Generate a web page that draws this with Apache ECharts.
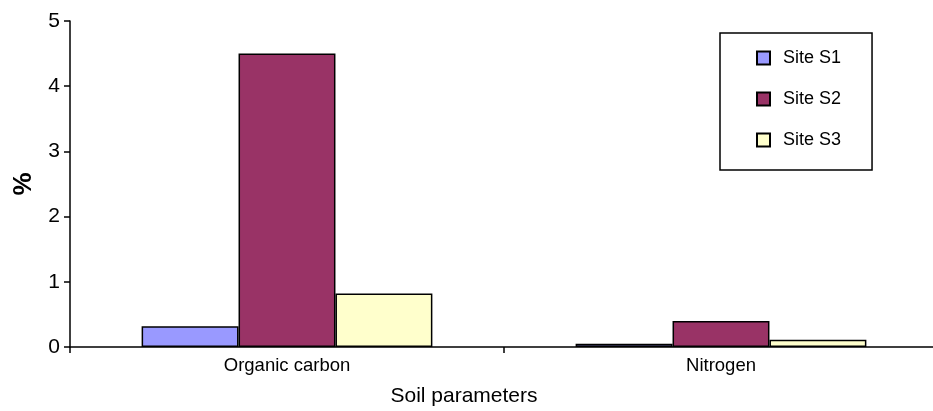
<!DOCTYPE html>
<html>
<head>
<meta charset="utf-8">
<script src="https://cdn.jsdelivr.net/npm/echarts@6/dist/echarts.min.js"></script>
<style>
  html, body { margin: 0; padding: 0; background: #fff; }
  #chart { width: 933px; height: 411px; }
</style>
</head>
<body>
<div id="chart"></div>
<script>
// Soil parameters measured at three sites (%)
const categories = ['Organic carbon', 'Nitrogen'];
const siteNames = ['Site S1', 'Site S2', 'Site S3'];
const siteS1 = [0.32, 0.05];
const siteS2 = [4.5, 0.4];
const siteS3 = [0.82, 0.11];
const siteColors = ['#9999FF', '#993366', '#FFFFCC'];
const yTicks = [0, 1, 2, 3, 4, 5];

const FONT = '"Liberation Sans", Arial, sans-serif';
const chart = echarts.init(document.getElementById('chart'), null, { renderer: 'canvas' });

const seriesValues = [siteS1, siteS2, siteS3];

chart.setOption({
  animation: false,
  backgroundColor: '#ffffff',
  textStyle: { fontFamily: FONT, color: '#000' },
  grid: { left: 70, top: 21, bottom: 64, width: 868, containLabel: false, outerBoundsMode: 'none' },
  legend: {
    orient: 'vertical',
    left: 720,
    top: 33,
    padding: [16, 31, 21, 36],
    itemGap: 23,
    itemWidth: 13,
    itemHeight: 13,
    borderColor: '#000',
    borderWidth: 1.5,
    backgroundColor: '#fff',
    icon: 'rect',
    textStyle: { fontFamily: FONT, fontSize: 18, color: '#000', padding: [0, 0, 0, 8] },
    data: siteNames
  },
  xAxis: {
    type: 'category',
    data: categories,
    name: 'Soil parameters',
    nameLocation: 'middle',
    nameGap: 39,
    nameTextStyle: { fontFamily: FONT, fontSize: 21, color: '#000', padding: [0, 80, 0, 0] },
    axisLine: { show: true, lineStyle: { color: '#000', width: 1.5 } },
    axisTick: { show: true, alignWithLabel: false, length: 6, lineStyle: { color: '#000', width: 1.5 } },
    axisLabel: { fontFamily: FONT, fontSize: 18.5, color: '#000', margin: 9 },
    splitLine: { show: false }
  },
  yAxis: {
    type: 'value',
    min: yTicks[0],
    max: yTicks[yTicks.length - 1],
    interval: 1,
    name: '%',
    nameLocation: 'middle',
    nameRotate: 90,
    nameGap: 33,
    nameTextStyle: { fontFamily: FONT, fontSize: 26, fontWeight: 'bold', color: '#000' },
    axisLine: { show: true, lineStyle: { color: '#000', width: 1.5 } },
    axisTick: { show: true, inside: false, length: 6, lineStyle: { color: '#000', width: 1.5 } },
    axisLabel: { fontFamily: FONT, fontSize: 21, color: '#000', margin: 10 },
    splitLine: { show: false }
  },
  series: siteNames.map((name, i) => ({
    name: name,
    type: 'bar',
    data: seriesValues[i],
    barGap: '0%',
    barCategoryGap: '33%',
    itemStyle: { color: siteColors[i], borderColor: '#000', borderWidth: 1.5 }
  }))
});
</script>
</body>
</html>
